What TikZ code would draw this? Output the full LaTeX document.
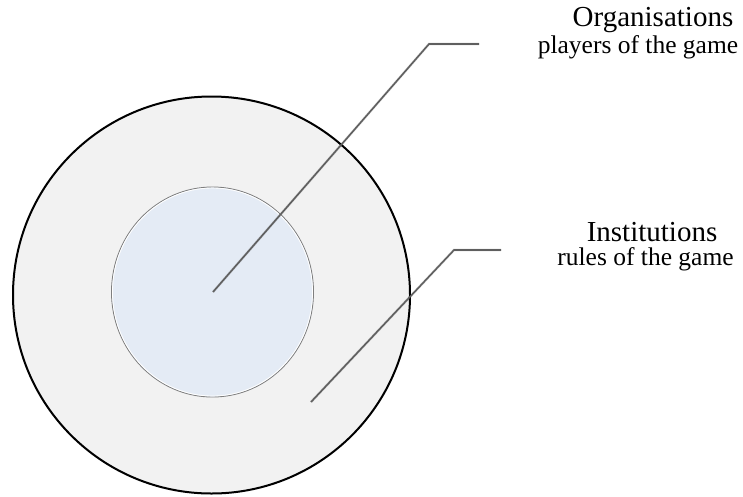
\documentclass[tikz,border=0pt]{standalone}
\usepackage{fontspec}
\usetikzlibrary{shapes.geometric}
\setmainfont{Liberation Serif}
\begin{document}
\begin{tikzpicture}[x=1pt,y=-1pt,
  ring/.style={draw=black,line width=2pt,fill=ringgray},
  core/.style={draw=coregray,line width=0.9pt,fill=coreblue},
  leader/.style={draw=leadgray,line width=1.6pt},
  leadshadow/.style={draw=black,opacity=0.12,line width=2.6pt},
  titletext/.style={font=\fontsize{29}{31}\selectfont,text=black,inner sep=0pt},
  subtext/.style={font=\fontsize{25.5}{27}\selectfont,text=black,inner sep=0pt}]
\definecolor{ringgray}{HTML}{F2F2F2}
\definecolor{coreblue}{HTML}{E4EBF5}
\definecolor{coregray}{HTML}{7F7F7F}
\definecolor{leadgray}{HTML}{5F5F5F}
\useasboundingbox (0,0) rectangle (743,496);
% outer circle
\node[ring,circle,minimum size=397pt,inner sep=0pt] (outer) at (211.5,295) {};
% inner circle
\node[core,ellipse,minimum width=202pt,minimum height=210pt,inner sep=0pt] (inner) at (212.5,292) {};
\draw[white,line width=0.8pt] (inner.center) ellipse [x radius=100pt,y radius=104pt];
% leader coordinates
\coordinate (a1) at (213,292);
\coordinate (e1) at (429,44);
\coordinate (t1) at (479,44);
\coordinate (a2) at (311,402);
\coordinate (e2) at (454,250);
\coordinate (t2) at (501,250);
% shadows
\draw[leadshadow,shift={(2pt,-2pt)}] (a1) -- (e1) -- (t1);
\draw[leadshadow,shift={(2pt,-2pt)}] (a2) -- (e2) -- (t2);
% leaders
\draw[leader] (a1) -- (e1) -- (t1);
\draw[leader] (a2) -- (e2) -- (t2);
% labels
\node[titletext] (org) at (653,20) {Organisations};
\node[subtext] (orgsub) at (638,47) {players of the game};
\node[titletext] (inst) at (652,232) {Institutions};
\node[subtext] (instsub) at (645.5,259) {rules of the game};
\end{tikzpicture}
\end{document}
